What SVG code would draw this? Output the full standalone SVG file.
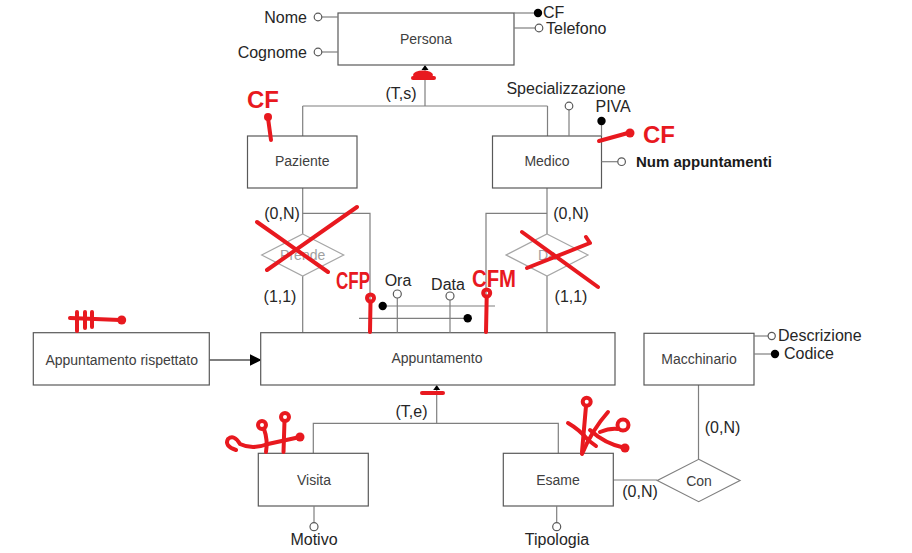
<svg xmlns="http://www.w3.org/2000/svg" width="912" height="553" viewBox="0 0 912 553">
<defs>
<style>
.box{fill:#fff;stroke:#595959;stroke-width:1.2}
.dia{fill:#fff;stroke:#a6a6a6;stroke-width:1.2}
.dia2{fill:#fff;stroke:#7f7f7f;stroke-width:1.2}
.lbl{font-family:"Liberation Sans",Arial,sans-serif;font-size:14px;fill:#404040;text-anchor:middle;dominant-baseline:central}
.lblg{font-family:"Liberation Sans",Arial,sans-serif;font-size:14px;fill:#a0a0a0;text-anchor:middle;dominant-baseline:central}
.at{font-family:"Liberation Sans",Arial,sans-serif;font-size:16px;fill:#262626;dominant-baseline:central}
.atb{font-family:"Liberation Sans",Arial,sans-serif;font-size:15px;font-weight:bold;fill:#1a1a1a;dominant-baseline:central}
.ln{stroke:#7f7f7f;stroke-width:1.2;fill:none}
.oc{fill:#fff;stroke:#595959;stroke-width:1.2}
.fc{fill:#000}
.red{stroke:#e8191f;stroke-width:4;stroke-linecap:round;stroke-linejoin:round;fill:none}
.redf{fill:#e8191f}
.redt{font-family:"Liberation Sans",Arial,sans-serif;font-size:24px;fill:#e8191f;font-weight:bold}
</style>
<marker id="tri" markerWidth="12" markerHeight="12" refX="11" refY="6" orient="auto" markerUnits="userSpaceOnUse">
<path d="M0,0 L12,6 L0,12 Z" fill="#000"/>
</marker>
</defs>
<rect width="912" height="553" fill="#fff"/>

<g id="connectors">
<line class="ln" x1="425" y1="66" x2="425" y2="106"/>
<line class="ln" x1="302.7" y1="106" x2="547.5" y2="106"/>
<line class="ln" x1="302.7" y1="106" x2="302.7" y2="136"/>
<line class="ln" x1="547.5" y1="106" x2="547.5" y2="136"/>
<path d="M421.5,70 L425,65 L428.5,70 Z" fill="#000"/>
<line class="ln" x1="302.7" y1="188" x2="302.7" y2="234"/>
<line class="ln" x1="302.7" y1="276" x2="302.7" y2="332.7"/>
<polyline class="ln" points="302.7,213.3 370,213.3 370,332.7"/>
<line class="ln" x1="547" y1="188" x2="547" y2="234"/>
<line class="ln" x1="547" y1="276" x2="547" y2="332.7"/>
<polyline class="ln" points="547,213.3 486,213.3 486,332.7"/>
<line class="ln" x1="436.7" y1="386" x2="436.7" y2="423.3"/>
<polyline class="ln" points="313.3,453.3 313.3,423.3 558.3,423.3 558.3,453.3"/>
<path d="M433.2,390 L436.7,385 L440.2,390 Z" fill="#000"/>
<line class="ln" x1="613.3" y1="480" x2="657.3" y2="480"/>
<line class="ln" x1="698.5" y1="385" x2="698.5" y2="459.3"/>
<line x1="209.3" y1="360" x2="260.7" y2="360" stroke="#000" stroke-width="1.2" marker-end="url(#tri)"/>
<text class="at" x="401" y="93" text-anchor="middle">(T,s)</text>
<text class="at" x="282" y="213" text-anchor="middle">(0,N)</text>
<text class="at" x="280" y="296" text-anchor="middle">(1,1)</text>
<text class="at" x="571" y="213" text-anchor="middle">(0,N)</text>
<text class="at" x="571" y="296" text-anchor="middle">(1,1)</text>
<text class="at" x="411.5" y="411.7" text-anchor="middle">(T,e)</text>
<text class="at" x="640" y="491.7" text-anchor="middle">(0,N)</text>
<text class="at" x="722.5" y="427" text-anchor="middle">(0,N)</text>
</g>

<g id="persona">
<rect class="box" x="338" y="13" width="176" height="52"/>
<text class="lbl" x="426" y="39">Persona</text>
<line class="ln" x1="322" y1="17" x2="338" y2="17"/>
<circle class="oc" cx="318" cy="17" r="3.8"/>
<text class="at" x="307" y="17" text-anchor="end">Nome</text>
<line class="ln" x1="322" y1="52" x2="338" y2="52"/>
<circle class="oc" cx="318" cy="52" r="3.8"/>
<text class="at" x="307" y="52" text-anchor="end">Cognome</text>
<line class="ln" x1="514" y1="13" x2="534" y2="13"/>
<circle class="fc" cx="538" cy="13" r="4.2"/>
<text class="at" x="543" y="12">CF</text>
<line class="ln" x1="514" y1="28" x2="535" y2="28"/>
<circle class="oc" cx="539" cy="28" r="3.8"/>
<text class="at" x="546" y="28">Telefono</text>
</g>

<g id="paziente">
<rect class="box" x="247.5" y="136" width="109.5" height="52"/>
<text class="lbl" x="302.2" y="161">Paziente</text>
</g>

<g id="medico">
<rect class="box" x="492.5" y="136" width="109" height="52"/>
<text class="lbl" x="547" y="161">Medico</text>
<line class="ln" x1="569" y1="110" x2="569" y2="136"/>
<circle class="oc" cx="569" cy="106" r="3.8"/>
<text class="at" x="566" y="88" text-anchor="middle">Specializzazione</text>
<line class="ln" x1="601.5" y1="121" x2="601.5" y2="136"/>
<circle class="fc" cx="601.5" cy="121" r="4.2"/>
<text class="at" x="595.5" y="106">PIVA</text>
<line class="ln" x1="601.5" y1="161.7" x2="617.8" y2="161.7"/>
<circle class="oc" cx="621.6" cy="161.7" r="3.8"/>
<text class="atb" x="636" y="161">Num appuntamenti</text>
</g>

<g id="prende">
<polygon class="dia" points="302.7,234 343.7,255 302.7,276 261.7,255"/>
<text class="lblg" x="302.7" y="255">Prende</text>
</g>

<g id="da">
<polygon class="dia" points="547,234 588,255 547,276 506,255"/>
<text class="lblg" x="547" y="255">Da</text>
</g>

<g id="appuntamento">
<rect class="box" x="260.7" y="332.7" width="354.3" height="52.3"/>
<text class="lbl" x="437" y="358">Appuntamento</text>
<line class="ln" x1="397.3" y1="298" x2="397.3" y2="332.7"/>
<circle class="oc" cx="397.3" cy="294" r="4"/>
<text class="at" x="398" y="280" text-anchor="middle">Ora</text>
<line class="ln" x1="450" y1="300" x2="450" y2="332.7"/>
<circle class="oc" cx="450" cy="296" r="4"/>
<text class="at" x="448" y="284" text-anchor="middle">Data</text>
<line class="ln" x1="383" y1="306" x2="495" y2="306"/>
<circle class="fc" cx="382.7" cy="306" r="4.2"/>
<line class="ln" x1="359" y1="318.3" x2="467.7" y2="318.3"/>
<circle class="fc" cx="467.7" cy="318.3" r="4.2"/>
</g>

<g id="appuntamento-rispettato">
<rect class="box" x="33.3" y="332.7" width="176" height="52.3"/>
<text class="lbl" x="121.7" y="360">Appuntamento rispettato</text>
</g>

<g id="macchinario">
<rect class="box" x="644" y="333.3" width="110" height="51.7"/>
<text class="lbl" x="699" y="359.3">Macchinario</text>
<line class="ln" x1="754" y1="336" x2="768" y2="336"/>
<circle class="oc" cx="771.7" cy="336" r="3.6"/>
<text class="at" x="778" y="335">Descrizione</text>
<line class="ln" x1="754" y1="354" x2="771" y2="354"/>
<circle class="fc" cx="775" cy="354" r="4.2"/>
<text class="at" x="784" y="353">Codice</text>
</g>

<g id="con">
<polygon class="dia2" points="698.7,459.3 740,480.5 698.7,501.7 657.3,480.5"/>
<text class="lbl" x="699" y="480.7">Con</text>
</g>

<g id="visita">
<rect class="box" x="258.3" y="453.3" width="110" height="52.7"/>
<text class="lbl" x="314" y="480">Visita</text>
<line class="ln" x1="314" y1="506" x2="314" y2="522.7"/>
<circle class="oc" cx="314" cy="526.7" r="4"/>
<text class="at" x="314" y="539" text-anchor="middle">Motivo</text>
</g>

<g id="esame">
<rect class="box" x="503.3" y="453.3" width="110" height="52.7"/>
<text class="lbl" x="558" y="480">Esame</text>
<line class="ln" x1="556.7" y1="506" x2="556.7" y2="522.7"/>
<circle class="oc" cx="556.7" cy="526.7" r="4"/>
<text class="at" x="557" y="539" text-anchor="middle">Tipologia</text>
</g>

<g id="annotations">
<ellipse class="redf" cx="423" cy="75" rx="10" ry="4.5"/>
<path class="red" d="M413,78 L434,78" stroke-width="3"/>
<text class="redt" x="247" y="108">CF</text>
<line class="red" x1="268" y1="118" x2="271" y2="140"/>
<circle class="redf" cx="268" cy="117" r="4"/>
<line class="red" x1="599" y1="141" x2="628" y2="133"/>
<circle class="redf" cx="630" cy="133" r="4.5"/>
<text class="redt" x="643" y="143">CF</text>
<line class="red" x1="257" y1="222" x2="328" y2="272"/>
<line class="red" x1="357" y1="207" x2="267" y2="270"/>
<text class="redt" x="336" y="289" font-size="18" textLength="34" lengthAdjust="spacingAndGlyphs">CFP</text>
<circle class="red" cx="370.5" cy="298" r="3.5" stroke-width="3.5"/>
<line class="red" x1="370.5" y1="302" x2="370" y2="332"/>
<text class="redt" x="472" y="287" font-size="20" textLength="44" lengthAdjust="spacingAndGlyphs">CFM</text>
<circle class="red" cx="486.7" cy="293" r="3.5" stroke-width="3.5"/>
<line class="red" x1="486.7" y1="297" x2="486" y2="332"/>
<line class="red" x1="522" y1="232" x2="598" y2="287"/>
<path class="red" d="M527,268 L590,243 L586,237"/>
<line class="red" x1="70" y1="318" x2="120" y2="320"/>
<circle class="redf" cx="121.7" cy="320" r="4.5"/>
<line class="red" x1="77" y1="312" x2="77" y2="331"/>
<line class="red" x1="85" y1="312" x2="85" y2="328"/>
<line class="red" x1="92" y1="312" x2="92" y2="327"/>
<path class="red" d="M422,393 L443,393" stroke-width="5"/>
<circle class="red" cx="285" cy="417" r="4" stroke-width="3.5"/>
<line class="red" x1="284.5" y1="421" x2="283.5" y2="452"/>
<circle class="red" cx="262" cy="425" r="4" stroke-width="3.5"/>
<path class="red" d="M264,429 Q268,440 266,452"/>
<path class="red" d="M236,450 Q224,446 228,439 Q234,434 240,444 Q252,450 268,444 L300,437"/>
<circle class="redf" cx="300" cy="437" r="4.5"/>
<circle class="red" cx="586.7" cy="401.7" r="4" stroke-width="3.5"/>
<line class="red" x1="586" y1="406" x2="582" y2="452"/>
<path class="red" d="M568,423 Q580,430 588,440 L596,446"/>
<path class="red" d="M582,454 Q592,430 608,412"/>
<circle class="red" cx="623" cy="425" r="5.5" stroke-width="3.5"/>
<path class="red" d="M600,432 Q610,428 618,429"/>
<path class="red" d="M590,430 Q605,444 625,448"/>
<circle class="redf" cx="625" cy="448" r="4.5"/>
</g>
</svg>
